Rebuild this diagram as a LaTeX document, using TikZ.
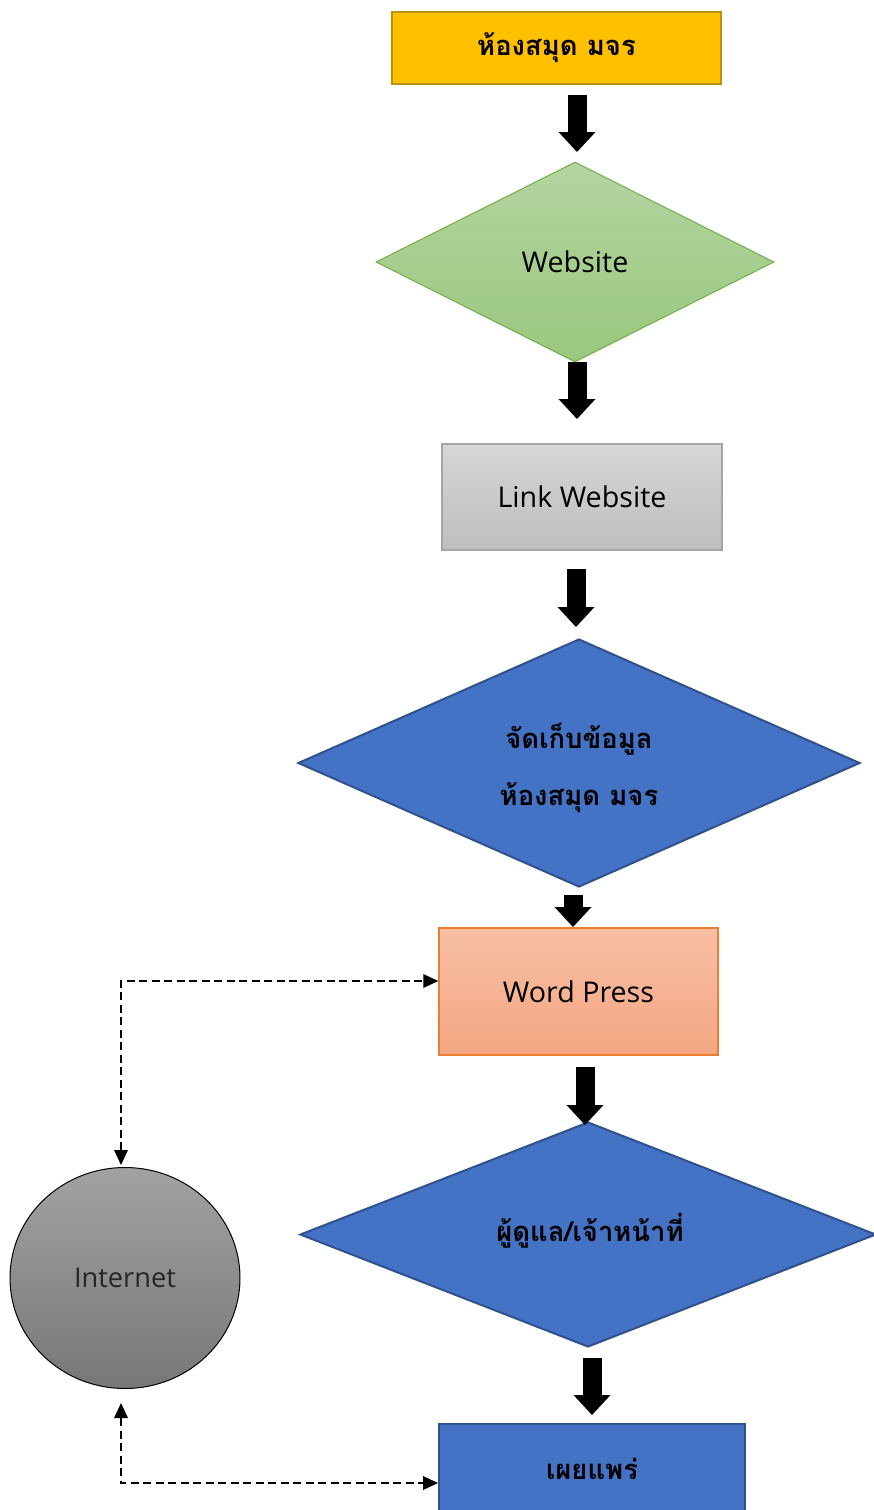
\documentclass[tikz,border=0pt]{standalone}
\usepackage{fontspec}
\setmainfont{Open Sans}
\newfontfamily\thaifont[Script=Thai]{Loma}
\usetikzlibrary{shapes.geometric,arrows.meta,calc}
\newdimen\pxu \pxu=0.02cm
\definecolor{goldF}{HTML}{FFC000}
\definecolor{goldD}{HTML}{BF9000}
\definecolor{grnT}{HTML}{B3D5A0}
\definecolor{grnB}{HTML}{9AC77E}
\definecolor{grnD}{HTML}{70AD47}
\definecolor{gryT}{HTML}{D6D6D6}
\definecolor{gryB}{HTML}{BEBEBE}
\definecolor{gryD}{HTML}{A5A5A5}
\definecolor{bluF}{HTML}{4472C4}
\definecolor{bluD}{HTML}{2F528F}
\definecolor{orT}{HTML}{F8BFA5}
\definecolor{orB}{HTML}{F4A682}
\definecolor{orD}{HTML}{ED7D31}
\definecolor{cirT}{HTML}{A2A2A2}
\definecolor{cirB}{HTML}{777777}
\definecolor{intxt}{HTML}{262626}
\tikzset{
  x=0.02cm, y=-0.02cm,
  rbox/.style={rectangle, draw, inner sep=0pt},
  dbox/.style={diamond, draw, inner sep=0pt, shape aspect=2},
  thtxt/.style={font=\thaifont\bfseries\fontsize{15.6}{32}\selectfont, text=black, align=center},
  lttxt/.style={font=\fontsize{16.3}{20}\selectfont, text=black},
  blk/.style={line width=0.38cm, black, -{Triangle[width=0.74cm,length=0.4cm,line width=0pt]}},
  dconn/.style={dash pattern=on 0.16cm off 0.09cm, line width=0.035cm, black,
    {Triangle[width=0.28cm,length=0.3cm,line width=0pt]}-{Triangle[width=0.28cm,length=0.3cm,line width=0pt]}}
}
\begin{document}
\begin{tikzpicture}
\useasboundingbox (0,0) rectangle (874,1510);
% nodes
\node[rbox, fill=goldF, draw=goldD, line width=2\pxu, minimum width=329\pxu, minimum height=72\pxu, thtxt] (lib) at (556.5,48) {ห้องสมุด มจร};
\node[dbox, top color=grnT, bottom color=grnB, draw=grnD, line width=1\pxu, minimum width=398\pxu, minimum height=200\pxu, lttxt] (web) at (575,262) {Website};
\node[rbox, top color=gryT, bottom color=gryB, draw=gryD, line width=1.5\pxu, minimum width=280\pxu, minimum height=106\pxu, lttxt] (link) at (582,497) {Link Website};
\node[dbox, fill=bluF, draw=bluD, line width=2\pxu, minimum width=562\pxu, minimum height=248\pxu] (store) at (579,763) {};
\node[thtxt] (storetxt) at (579,768) {จัดเก็บข้อมูล\\ห้องสมุด มจร};
\node[rbox, top color=orT, bottom color=orB, draw=orD, line width=1.5\pxu, minimum width=279\pxu, minimum height=127\pxu, lttxt] (wp) at (578.5,991.5) {Word Press};
\node[dbox, fill=bluF, draw=bluD, line width=2\pxu, minimum width=576\pxu, minimum height=225\pxu] (admin) at (588,1234.5) {};
\node[thtxt] (admintxt) at (590,1231) {ผู้ดูแล/เจ้าหน้าที่};
\node[rbox, fill=bluF, draw=bluD, line width=2\pxu, minimum width=306\pxu, minimum height=90\pxu, thtxt] (pub) at (592,1469) {เผยแพร่};
\node[ellipse, draw=black, line width=1\pxu, top color=cirT, bottom color=cirB, minimum width=230\pxu, minimum height=221\pxu, inner sep=0pt, font=\fontsize{15.5}{19}\selectfont, text=intxt] (inet) at (125,1278) {Internet};
% block arrow end points
\coordinate (a1s) at (577,95);  \coordinate (a1e) at (577,152);
\coordinate (a2s) at (577,362); \coordinate (a2e) at (577,419);
\coordinate (a3s) at (576,569); \coordinate (a3e) at (576,627);
\coordinate (a4s) at (573,895); \coordinate (a4e) at (573,927);
\coordinate (a5s) at (585,1067); \coordinate (a5e) at (585,1125);
\coordinate (a6s) at (592,1358); \coordinate (a6e) at (592,1415);
\draw[blk] (a1s) -- (a1e);
\draw[blk] (a2s) -- (a2e);
\draw[blk] (a3s) -- (a3e);
\draw[blk] (a4s) -- (a4e);
\draw[blk] (a5s) -- (a5e);
\draw[blk] (a6s) -- (a6e);
% dashed connectors
\coordinate (it) at ($(inet.north)+(-4,-2)$);
\coordinate (ib) at ($(inet.south)+(-4,14)$);
\draw[dconn] (it) |- ($(wp.west)+(0,-10.5)$);
\draw[dconn] (ib) |- ($(pub.west)+(0,14)$);
\end{tikzpicture}
\end{document}
